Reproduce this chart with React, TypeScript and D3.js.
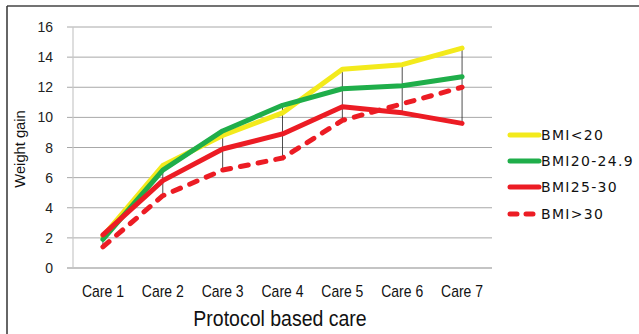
import React from "react";
import * as d3 from "d3";

const categories = ["Care 1", "Care 2", "Care 3", "Care 4", "Care 5", "Care 6", "Care 7"];
const bmiUnder20 = [2.1, 6.8, 8.8, 10.3, 13.2, 13.5, 14.6];
const bmi20to249 = [1.9, 6.5, 9.1, 10.8, 11.9, 12.1, 12.7];
const bmi25to30 = [2.2, 5.8, 7.9, 8.9, 10.7, 10.3, 9.6];
const bmiOver30 = [1.4, 4.8, 6.5, 7.3, 9.8, 10.9, 12.0];
const yTicks = [0, 2, 4, 6, 8, 10, 12, 14, 16];

const seriesNames = ["BMI<20", "BMI20-24.9", "BMI25-30", "BMI>30"];
const seriesValues = [bmiUnder20, bmi20to249, bmi25to30, bmiOver30];
const seriesColors = ["#F3EA1C", "#1FAE4A", "#EC1C24", "#EC1C24"];
const seriesDashed = [false, false, false, true];

export default function App() {
  const W = 639, H = 334;
  const left = 73, right = 492, top = 27, bottom = 268;
  const x = d3.scalePoint<string>().domain(categories).range([left, right]).padding(0.5);
  const y = d3.scaleLinear().domain([0, 16]).range([bottom, top]);
  const line = d3.line<number>().x((_, i) => x(categories[i])!).y((d) => y(d));
  const font = "Liberation Sans, Arial, sans-serif";

  return (
    <svg width={W} height={H} style={{ position: "absolute", left: 0, top: 0, background: "#fff" }}>
      {/* frame */}
      <line x1={7} y1={6} x2={W} y2={6} stroke="#444" strokeWidth={1.5} />
      <line x1={7} y1={6} x2={7} y2={H} stroke="#333" strokeWidth={1.5} />

      {/* grid */}
      {yTicks.filter((t) => t > 0).map((t) => (
        <line key={t} x1={left - 6} x2={right} y1={y(t)} y2={y(t)} stroke="#a8a8a8" strokeWidth={1} />
      ))}
      <line x1={left} x2={left} y1={top} y2={bottom} stroke="#c8c8c8" strokeWidth={1.2} />
      <line x1={left - 6} x2={right} y1={bottom} y2={bottom} stroke="#c4c4c4" strokeWidth={2} />

      {yTicks.map((t) => (
        <text key={t} transform={`translate(53,${y(t) + 5}) scale(1,1.1)`} textAnchor="end" fontFamily={font} fontSize={14} fill="#222">
          {t}
        </text>
      ))}

      {categories.map((c) => (
        <text key={c} transform={`translate(${x(c)!},297) scale(1,1.2)`} textAnchor="middle" fontFamily={font} fontSize={14} fill="#111">
          {c}
        </text>
      ))}

      <text transform="translate(280,326) scale(1,1.15)" textAnchor="middle" fontFamily={font} fontSize={19.5} fill="#111">
        Protocol based care
      </text>
      <text transform={`translate(25,149) rotate(-90) scale(1.05,1.1)`} textAnchor="middle" fontFamily={font} fontSize={14} fill="#111">
        Weight gain
      </text>

      {/* high-low lines */}
      {categories.map((c, i) => {
        const vals = seriesValues.map((s) => s[i]);
        return (
          <line key={c} x1={x(c)!} x2={x(c)!} y1={y(d3.min(vals)!)} y2={y(d3.max(vals)!)} stroke="#222" strokeWidth={0.8} />
        );
      })}

      {seriesValues.map((s, k) => (
        <path
          key={seriesNames[k]}
          d={line(s)!}
          fill="none"
          stroke={seriesColors[k]}
          strokeWidth={5}
          strokeLinejoin="round"
          strokeLinecap="round"
          strokeDasharray={seriesDashed[k] ? "8,10" : undefined}
        />
      ))}

      {/* legend */}
      {seriesNames.map((n, k) => {
        const ly = [135, 161, 187, 214][k];
        return (
          <g key={n}>
            <line x1={510} x2={539} y1={ly} y2={ly} stroke={seriesColors[k]} strokeWidth={5} strokeLinecap="round" strokeDasharray={seriesDashed[k] ? "7,9" : undefined} />
            <text x={541} y={ly} dy="0.36em" fontFamily="DejaVu Sans, Verdana, sans-serif" fontSize={14} letterSpacing={1.3} fill="#111">
              {n}
            </text>
          </g>
        );
      })}
    </svg>
  );
}
